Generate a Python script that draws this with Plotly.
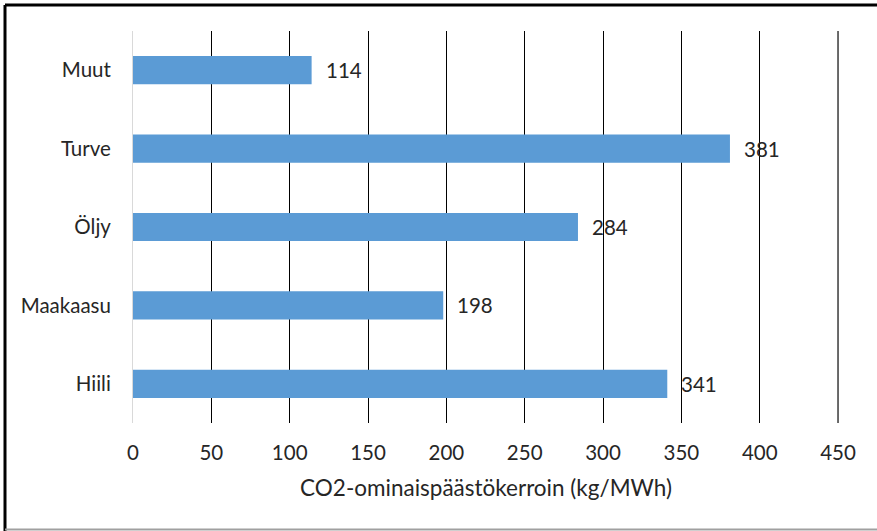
import plotly.graph_objects as go

categories = ["Hiili", "Maakaasu", "Öljy", "Turve", "Muut"]
values = [341, 198, 284, 381, 114]
x_ticks = [0, 50, 100, 150, 200, 250, 300, 350, 400, 450]
x_title = "CO2-ominaispäästökerroin (kg/MWh)"

FONT = "Lato, 'Open Sans', sans-serif"
FS = 20.5
W, H = 877, 531
L, R, T, B = 133, 38, 31, 108
pw, ph = W - L - R, H - T - B

fig = go.Figure()
fig.add_trace(go.Bar(
    x=values, y=categories, orientation="h",
    marker=dict(color="#5B9BD5", line=dict(width=0)),
    hoverinfo="x+y",
))

for c, v in zip(categories, values):
    fig.add_annotation(x=v, y=c, xref="x", yref="y", text=str(v), showarrow=False,
                       xanchor="left", yanchor="middle", xshift=12,
                       font=dict(family=FONT, size=FS, color="#262626"))

def px_x(p):
    return (p - L) / pw

def px_y(p):
    return (H - B - p) / ph

# last gridline (drawn in grey, at the right edge of the plot area)
fig.add_shape(type="line", xref="x", yref="paper",
              x0=x_ticks[-1], x1=x_ticks[-1], y0=0, y1=1,
              line=dict(color="#666666", width=2), layer="below")

# outer border
fig.add_shape(type="line", xref="paper", yref="paper",
              x0=px_x(5), x1=px_x(W + 5), y0=px_y(5), y1=px_y(5),
              line=dict(color="black", width=3))
fig.add_shape(type="line", xref="paper", yref="paper",
              x0=px_x(5), x1=px_x(5), y0=px_y(5), y1=px_y(H + 5),
              line=dict(color="black", width=3))
fig.add_shape(type="line", xref="paper", yref="paper",
              x0=px_x(5), x1=px_x(W + 5), y0=px_y(529.5), y1=px_y(529.5),
              line=dict(color="#a0a0a0", width=2))

fig.update_layout(
    width=W, height=H,
    margin=dict(l=L, r=R, t=T, b=B, pad=0, autoexpand=False),
    paper_bgcolor="white", plot_bgcolor="white",
    bargap=0.64,
    showlegend=False,
    font=dict(family=FONT, size=FS, color="#262626"),
    xaxis=dict(
        range=[0, 450.6], tickvals=x_ticks, ticktext=[str(t) for t in x_ticks],
        showgrid=True, gridcolor="#000000", gridwidth=1,
        zeroline=False, showline=False, automargin=False,
        ticks="", ticklabelstandoff=15,
        tickfont=dict(family=FONT, size=FS, color="#262626"),
        title=dict(text=x_title, standoff=17,
                   font=dict(family=FONT, size=22.5, color="#262626")),
        fixedrange=True,
    ),
    yaxis=dict(
        categoryorder="array", categoryarray=categories,
        showgrid=False, zeroline=False, automargin=False,
        showline=True, linecolor="#d9d9d9", linewidth=1,
        ticks="", ticklabelstandoff=17,
        tickfont=dict(family=FONT, size=FS, color="#262626"),
        fixedrange=True,
    ),
)

fig.write_html(
    "out.html",
    config={"displayModeBar": False},
    post_script="document.body.style.margin='0';document.body.style.padding='0';",
)
